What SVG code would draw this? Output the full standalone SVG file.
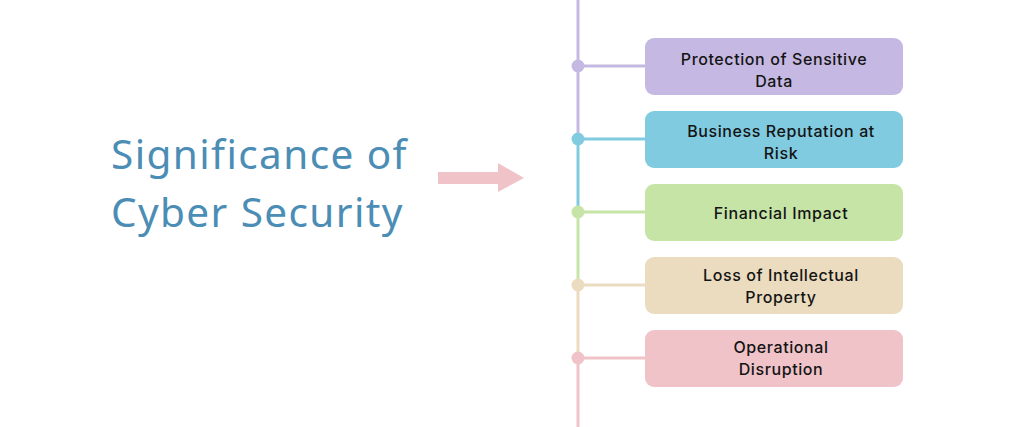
<svg xmlns="http://www.w3.org/2000/svg" width="1024" height="427" viewBox="0 0 1024 427">
<style>
.t{font-family:Inter,"Noto Sans",sans-serif;font-size:16px;font-weight:500;letter-spacing:0.6px;fill:#141414;text-anchor:middle}
.title{font-family:"Noto Sans","Open Sans",sans-serif;font-size:40.5px;letter-spacing:1.4px;fill:#4b8db5}
.ln{stroke-width:3;fill:none}
</style>
<rect width="1024" height="427" fill="#ffffff"/>
<g id="title">
<text class="title" x="111" y="169">Significance of</text>
<text class="title" x="111" y="227">Cyber Security</text>
</g>
<g id="connectors">
<polygon points="438,172 498,172 498,163 524,178 498,192 498,184 438,184" fill="#efc3c8"/>
<line class="ln" x1="578" y1="0" x2="578" y2="139" stroke="#c5b9e3"/>
<line class="ln" x1="578" y1="139" x2="578" y2="212" stroke="#80cbe0"/>
<line class="ln" x1="578" y1="212" x2="578" y2="285" stroke="#c5e4a5"/>
<line class="ln" x1="578" y1="285" x2="578" y2="358" stroke="#ebdcbf"/>
<line class="ln" x1="578" y1="358" x2="578" y2="427" stroke="#efc3c8"/>
<line class="ln" x1="578" y1="66" x2="646" y2="66" stroke="#c5b9e3"/>
<line class="ln" x1="578" y1="139" x2="646" y2="139" stroke="#80cbe0"/>
<line class="ln" x1="578" y1="212" x2="646" y2="212" stroke="#c5e4a5"/>
<line class="ln" x1="578" y1="285" x2="646" y2="285" stroke="#ebdcbf"/>
<line class="ln" x1="578" y1="358" x2="646" y2="358" stroke="#efc3c8"/>
<circle cx="578" cy="66" r="6.5" fill="#c5b9e3"/>
<circle cx="578" cy="139" r="6.5" fill="#80cbe0"/>
<circle cx="578" cy="212" r="6.5" fill="#c5e4a5"/>
<circle cx="578" cy="285" r="6.5" fill="#ebdcbf"/>
<circle cx="578" cy="358" r="6.5" fill="#efc3c8"/>
</g>
<g id="n1">
<rect x="645" y="38" width="258" height="57" rx="9" fill="#c5b9e3"/>
<text class="t" x="774" y="64.5">Protection of Sensitive</text>
<text class="t" x="774" y="86.5">Data</text>
</g>
<g id="n2">
<rect x="645" y="111" width="258" height="57" rx="9" fill="#80cbe0"/>
<text class="t" x="781" y="137">Business Reputation at</text>
<text class="t" x="781" y="159">Risk</text>
</g>
<g id="n3">
<rect x="645" y="184" width="258" height="57" rx="9" fill="#c5e4a5"/>
<text class="t" x="781" y="219">Financial Impact</text>
</g>
<g id="n4">
<rect x="645" y="257" width="258" height="57" rx="9" fill="#ebdcbf"/>
<text class="t" x="781" y="281">Loss of Intellectual</text>
<text class="t" x="781" y="303">Property</text>
</g>
<g id="n5">
<rect x="645" y="330" width="258" height="57" rx="9" fill="#efc3c8"/>
<text class="t" x="781" y="353">Operational</text>
<text class="t" x="781" y="375">Disruption</text>
</g>
</svg>
